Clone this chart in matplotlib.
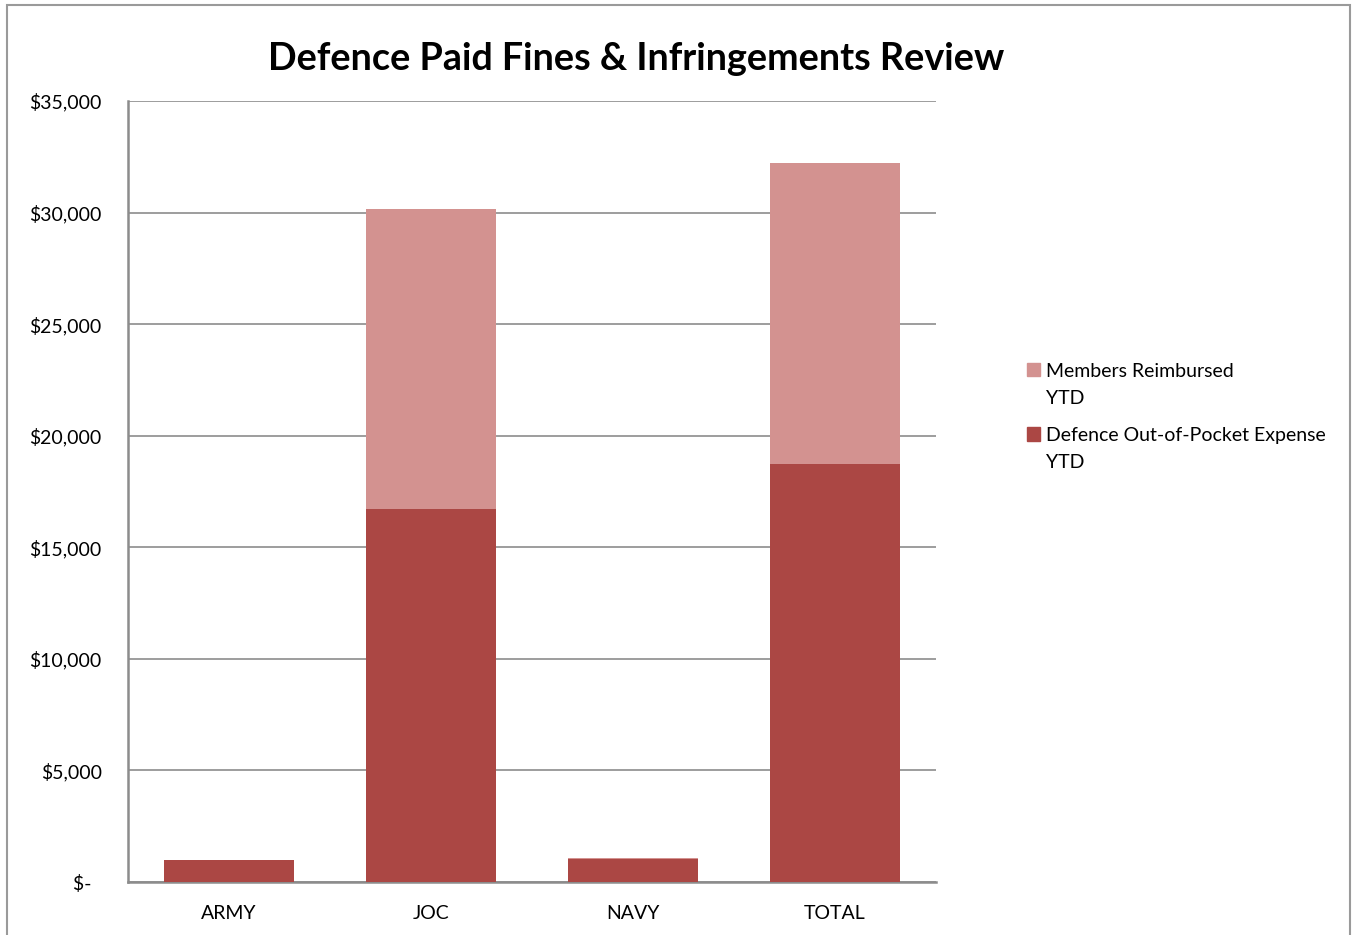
"""Defence paid fines & infringements review: stacked bars per service."""
import matplotlib
matplotlib.use("Agg")
import matplotlib.pyplot as plt
from matplotlib.offsetbox import HPacker
from matplotlib.patches import Rectangle, Patch

categories = ["ARMY", "JOC", "NAVY", "TOTAL"]
out_of_pocket = [990, 16700, 1050, 18740]
reimbursed = [10, 13460, 10, 13480]
y_ticks = [0, 5000, 10000, 15000, 20000, 25000, 30000, 35000]
y_tick_labels = ["$-  ", "$5,000", "$10,000", "$15,000", "$20,000",
                 "$25,000", "$30,000", "$35,000"]

DARK = "#AB4744"
PINK = "#D39290"
GRID = "#8C8C8C"

plt.rcParams["font.family"] = ["Lato", "DejaVu Sans"]

fig = plt.figure(figsize=(13.54, 9.35), dpi=100)
ax = fig.add_axes([128 / 1354, 1 - 882 / 935, 808 / 1354, 781 / 935])

xs = list(range(len(categories)))
ax.bar(xs, out_of_pocket, width=0.645, color=DARK, zorder=3)
ax.bar(xs, reimbursed, width=0.645, bottom=out_of_pocket, color=PINK,
       zorder=3)

ax.set_xlim(-0.5, len(categories) - 0.5)
ax.set_ylim(0, 35000)
ax.set_yticks(y_ticks)
ax.set_yticklabels(y_tick_labels)
ax.set_xticks(xs)
ax.set_xticklabels(categories)
ax.tick_params(axis="y", length=0, pad=19, labelsize=14)
ax.tick_params(axis="x", length=0, pad=16.5, labelsize=14)
ax.yaxis.grid(True, color=GRID, lw=1.2, zorder=0)
for s in ("top", "right"):
    ax.spines[s].set_visible(False)
for s in ("left", "bottom"):
    ax.spines[s].set_color(GRID)
    ax.spines[s].set_linewidth(1.8)

fig.text(0.4695, 0.937, "Defence Paid Fines & Infringements Review",
         ha="center", va="center", fontsize=27.2, fontweight="bold")

# legend order matches the reference: reimbursed on top
handles = [Patch(color=PINK), Patch(color=DARK)]
labels = ["Members Reimbursed\nYTD", "Defence Out-of-Pocket Expense\nYTD"]
leg = fig.legend(handles, labels, loc="upper left",
                 bbox_to_anchor=(1017 / 1354, 1 - 353 / 935), frameon=False,
                 fontsize=14, handlelength=0.7, handleheight=0.7,
                 handletextpad=0.3, labelspacing=1.06, borderpad=0)
for t in leg.get_texts():
    t.set_linespacing(1.72)
# square sits next to the first line of each label, like Excel does
for hp in leg.findobj(HPacker):
    hp.align = "top"

# outer chart border
fig.patches.append(Rectangle((7 / 1354, -0.01), 1343 / 1354, 1.01 - 5 / 935,
                             transform=fig.transFigure, fill=False,
                             edgecolor="#9A9A9A", lw=1.5))

fig.savefig("out.png", dpi=100)
